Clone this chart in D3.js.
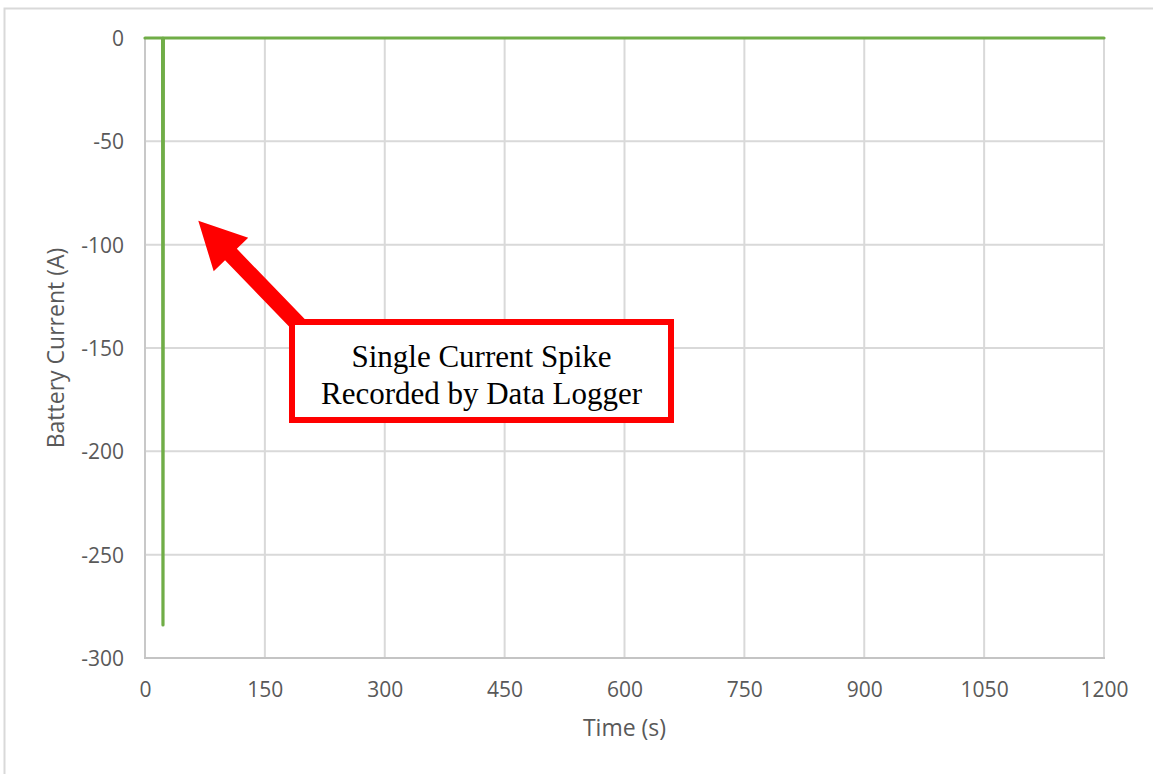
<!DOCTYPE html>
<html>
<head>
<meta charset="utf-8">
<script src="https://cdn.jsdelivr.net/npm/d3@7"></script>
<style>
  html, body { margin: 0; padding: 0; background: #ffffff; }
  svg { display: block; }
</style>
</head>
<body>
<svg id="chart" width="1153" height="774"></svg>
<script>
// ---- Data ----
const timeSeconds = [0, 22, 22.5, 23, 1200];
const batteryCurrent = [0, 0, -284, 0, 0];
const xTicks = [0, 150, 300, 450, 600, 750, 900, 1050, 1200];
const yTicks = [0, -50, -100, -150, -200, -250, -300];
const xTitle = "Time (s)";
const yTitle = "Battery Current (A)";
const noteLines = ["Single Current Spike", "Recorded by Data Logger"];

// ---- Layout ----
const svg = d3.select("#chart");
const W = 1153, H = 774;
const plot = { left: 145, right: 1104, top: 38, bottom: 658 };

const x = d3.scaleLinear().domain([0, 1200]).range([plot.left, plot.right]);
const y = d3.scaleLinear().domain([-300, 0]).range([plot.bottom, plot.top]);

// chart area border (partially visible)
svg.append("path")
  .attr("d", `M4.5,${H} L4.5,8.5 L${W},8.5`)
  .attr("fill", "none").attr("stroke", "#d9d9d9").attr("stroke-width", 2);

const gridColor = "#d9d9d9";
const labelColor = "#595959";
const fontFam = "'Open Sans', 'Noto Sans', sans-serif";

// horizontal gridlines
svg.append("g").selectAll("line").data(yTicks.filter(d => d !== -300)).join("line")
  .attr("x1", plot.left).attr("x2", plot.right)
  .attr("y1", d => y(d)).attr("y2", d => y(d))
  .attr("stroke", gridColor).attr("stroke-width", 2);

// vertical gridlines
svg.append("g").selectAll("line").data(xTicks).join("line")
  .attr("x1", d => x(d)).attr("x2", d => x(d))
  .attr("y1", plot.top).attr("y2", plot.bottom)
  .attr("stroke", d => d === 0 ? "#c8c8c8" : gridColor).attr("stroke-width", 2);

// x axis line
svg.append("line")
  .attr("x1", plot.left - 1).attr("x2", plot.right + 1)
  .attr("y1", y(-300)).attr("y2", y(-300))
  .attr("stroke", "#c4c4c4").attr("stroke-width", 2);

// Axes via d3 (labels only)
const xAxis = d3.axisBottom(x).tickValues(xTicks).tickSize(0).tickPadding(0).tickFormat(d3.format("d"));
const gx = svg.append("g").attr("transform", `translate(0,${plot.bottom})`).call(xAxis);
gx.select(".domain").remove();
gx.selectAll("text")
  .attr("y", 39).attr("dy", 0)
  .attr("fill", labelColor).style("font-family", fontFam).style("font-size", "21px");

const yAxis = d3.axisLeft(y).tickValues(yTicks).tickSize(0).tickPadding(0).tickFormat(d3.format("d"));
const gy = svg.append("g").attr("transform", `translate(${plot.left},0)`).call(yAxis);
gy.select(".domain").remove();
gy.selectAll("text")
  .attr("x", -21).attr("dy", "0.36em")
  .attr("fill", labelColor).style("font-family", fontFam).style("font-size", "21px")
  .text(d => d3.format("d")(d).replace("−", "-"));

// axis titles
svg.append("text")
  .attr("x", (plot.left + plot.right) / 2 + 0).attr("y", 736)
  .attr("text-anchor", "middle")
  .attr("fill", labelColor).style("font-family", fontFam).style("font-size", "23px")
  .text(xTitle);

svg.append("text")
  .attr("transform", `translate(64,${(plot.top + plot.bottom) / 2}) rotate(-90)`)
  .attr("text-anchor", "middle")
  .attr("fill", labelColor).style("font-family", fontFam).style("font-size", "23px")
  .text(yTitle);

// data line
const pts = timeSeconds.map((t, i) => [t, batteryCurrent[i]]);
svg.append("path")
  .datum(pts)
  .attr("d", d3.line().x(d => x(d[0])).y(d => y(d[1])))
  .attr("fill", "none")
  .attr("stroke", "#70ad47")
  .attr("stroke-width", 3.2)
  .attr("stroke-linejoin", "round")
  .attr("stroke-linecap", "round");

// ---- Annotation (arrow + box) ----
const tip = [198.3, 220.7];
const tail = [300, 326];
const dx = tail[0] - tip[0], dy = tail[1] - tip[1];
const L = Math.hypot(dx, dy);
const ang = Math.atan2(dy, dx) * 180 / Math.PI;
const headLen = 47, headHalf = 24, shaftHalf = 8.2;
const arrowPts = [[0, 0], [headLen, headHalf], [headLen, shaftHalf], [L, shaftHalf],
                  [L, -shaftHalf], [headLen, -shaftHalf], [headLen, -headHalf]];
svg.append("polygon")
  .attr("transform", `translate(${tip[0]},${tip[1]}) rotate(${ang})`)
  .attr("points", arrowPts.map(p => p.join(",")).join(" "))
  .attr("fill", "#ff0000");

const box = { x: 292, y: 322, w: 379, h: 98 };
svg.append("rect")
  .attr("x", box.x).attr("y", box.y).attr("width", box.w).attr("height", box.h)
  .attr("fill", "#ffffff").attr("stroke", "#ff0000").attr("stroke-width", 6);

svg.append("g").selectAll("text").data(noteLines).join("text")
  .attr("x", box.x + box.w / 2)
  .attr("y", (d, i) => 367 + i * 37)
  .attr("text-anchor", "middle")
  .attr("fill", "#000000")
  .style("font-family", "'Liberation Serif', 'Times New Roman', serif")
  .style("font-size", "31px")
  .text(d => d);
</script>
</body>
</html>
